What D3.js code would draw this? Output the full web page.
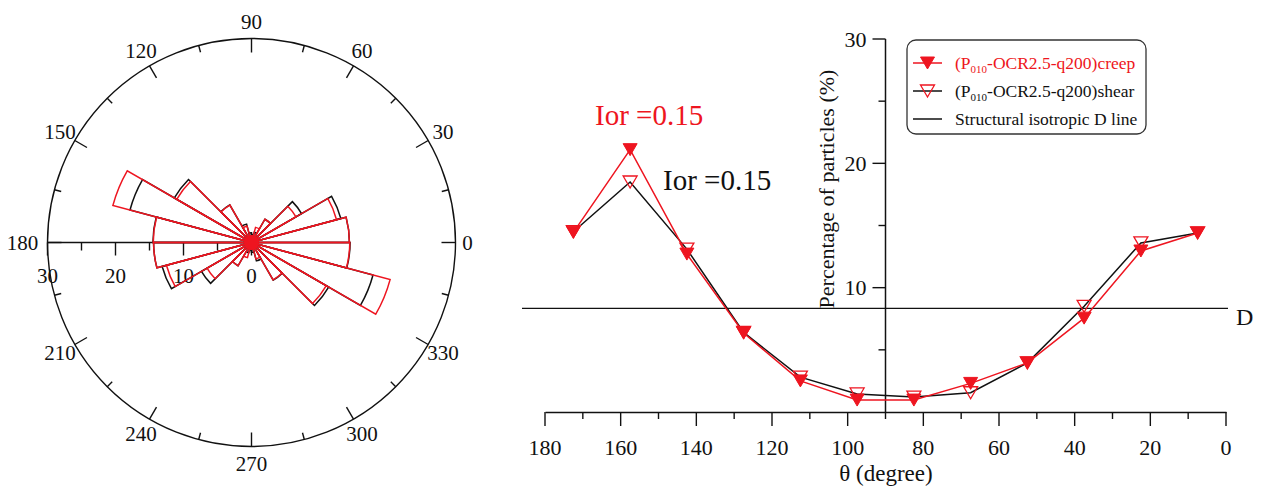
<!DOCTYPE html>
<html>
<head>
<meta charset="utf-8">
<script src="https://cdn.jsdelivr.net/npm/d3@7"></script>
<style>
  html, body { margin: 0; padding: 0; background: #fff; }
  svg { display: block; }
</style>
</head>
<body>
<svg id="chart" width="1262" height="487" font-family="'Liberation Serif', 'DejaVu Serif', serif"></svg>
<script>
// ---------------- DATA ----------------
const thetaCenters = [7.5, 22.5, 37.5, 52.5, 67.5, 82.5, 97.5, 112.5, 127.5, 142.5, 157.5, 172.5];
const creepValues  = [14.4, 12.95, 7.55, 3.95, 2.3, 0.96, 0.96, 2.5, 6.35, 12.7, 21.1, 14.45];
const shearValues  = [14.4, 13.6, 8.5, 3.95, 1.55, 1.2, 1.45, 2.8, 6.4, 13.1, 18.5, 14.5];
const binWidth = 15;
const isotropicD = 100 / 12;
const xTickLabels = [180, 160, 140, 120, 100, 80, 60, 40, 20, 0];
const yTickLabels = [0, 10, 20, 30];
const angleLabels = [0, 30, 60, 90, 120, 150, 180, 210, 240, 270, 300, 330];
const radialLabels = [0, 10, 20, 30];
const legendLabels = ["creep", "shear", "Structural isotropic D line"];
const iorCreep = "Ior =0.15";
const iorShear = "Ior =0.15";

const RED = "#ee1520";
const BLACK = "#111";
const FONT = "'Liberation Serif', 'DejaVu Serif', serif";

const svg = d3.select("#chart");

// ---------------- POLAR ROSE ----------------
const cx = 251.5, cy = 242.5, R = 204;
const rScale = d3.scaleLinear().domain([0, 30]).range([0, R]);
const gP = svg.append("g").attr("transform", `translate(${cx},${cy})`);

gP.append("circle").attr("r", R).attr("fill", "none").attr("stroke", BLACK).attr("stroke-width", 1.4);

const toRad = d => d * Math.PI / 180;
d3.range(0, 360, 15).forEach(a => {
  const major = a % 30 === 0;
  const len = major ? 14 : 7;
  const c = Math.cos(toRad(a)), s = -Math.sin(toRad(a));
  gP.append("line")
    .attr("x1", c * R).attr("y1", s * R)
    .attr("x2", c * (R - len)).attr("y2", s * (R - len))
    .attr("stroke", BLACK).attr("stroke-width", 1.4);
});
angleLabels.forEach(a => {
  const rr = (a === 0) ? 216 : (a === 180 ? 229 : 221);
  gP.append("text")
    .attr("x", Math.cos(toRad(a)) * rr)
    .attr("y", -Math.sin(toRad(a)) * rr)
    .attr("text-anchor", "middle").attr("dominant-baseline", "central")
    .attr("font-family", FONT)
    .attr("font-size", 21).attr("fill", BLACK).text(a);
});

gP.append("line").attr("x1", 0).attr("y1", 0).attr("x2", -R).attr("y2", 0)
  .attr("stroke", BLACK).attr("stroke-width", 1.4);
d3.range(0, 31, 5).forEach(v => {
  const major = v % 10 === 0;
  gP.append("line")
    .attr("x1", -rScale(v)).attr("y1", 0)
    .attr("x2", -rScale(v)).attr("y2", major ? 13 : 8)
    .attr("stroke", BLACK).attr("stroke-width", 1.4);
});
radialLabels.forEach(v => {
  gP.append("text").attr("x", -rScale(v)).attr("y", 33)
    .attr("text-anchor", "middle").attr("dominant-baseline", "central")
    .attr("font-family", FONT)
    .attr("font-size", 21).attr("fill", BLACK).text(v);
});

const arc = d3.arc().innerRadius(0);
function wedges(values, color) {
  const bins = d3.range(24).map(k => ({
    center: thetaCenters[k % 12] + (k >= 12 ? 180 : 0),
    value: values[k % 12]
  }));
  gP.append("g").selectAll("path").data(bins).join("path")
    .attr("d", d => arc({
      outerRadius: rScale(d.value),
      startAngle: toRad(90 - (d.center + binWidth / 2)),
      endAngle: toRad(90 - (d.center - binWidth / 2))
    }))
    .attr("fill", "none").attr("stroke", color).attr("stroke-width", 1.5)
    .attr("stroke-linejoin", "miter");
}
wedges(shearValues, BLACK);
wedges(creepValues, RED);
gP.append("circle").attr("r", 7.5).attr("fill", RED);

// ---------------- LINE CHART ----------------
const x = d3.scaleLinear().domain([180, 0]).range([545, 1226]);
const y = d3.scaleLinear().domain([0, 30]).range([412, 39]);

svg.append("line").attr("x1", 522).attr("x2", 1228)
  .attr("y1", y(isotropicD)).attr("y2", y(isotropicD))
  .attr("stroke", BLACK).attr("stroke-width", 1.4);
svg.append("text").attr("x", 1236).attr("y", y(isotropicD) + 17)
  .attr("font-family", FONT)
  .attr("font-size", 24).attr("fill", BLACK).text("D");

const xAxis = d3.axisBottom(x).tickValues(d3.range(0, 181, 10))
  .tickSize(0).tickFormat("");
const gx = svg.append("g").attr("transform", `translate(0,${y(0)})`).call(xAxis);
gx.select(".domain").attr("stroke", BLACK).attr("stroke-width", 1.5);
gx.selectAll(".tick").remove();
d3.range(0, 181, 10).forEach(v => {
  const major = v % 20 === 0;
  gx.append("line").attr("x1", x(v)).attr("x2", x(v)).attr("y1", 0).attr("y2", major ? 14 : 7)
    .attr("stroke", BLACK).attr("stroke-width", 1.4);
});
xTickLabels.forEach(v => {
  gx.append("text").attr("x", x(v)).attr("y", 43).attr("text-anchor", "middle")
    .attr("font-family", FONT)
    .attr("font-size", 22).attr("fill", BLACK).text(v);
});
svg.append("text").attr("x", 886).attr("y", 481).attr("text-anchor", "middle")
  .attr("font-family", FONT)
  .attr("font-size", 23).attr("fill", BLACK).text("θ (degree)");

const gy = svg.append("g").attr("transform", `translate(${x(90)},0)`);
gy.append("line").attr("x1", 0).attr("x2", 0).attr("y1", y(0)).attr("y2", y(30))
  .attr("stroke", BLACK).attr("stroke-width", 1.5);
d3.range(5, 31, 5).forEach(v => {
  const major = v % 10 === 0;
  gy.append("line").attr("x1", 0).attr("x2", major ? -13 : -7).attr("y1", y(v)).attr("y2", y(v))
    .attr("stroke", BLACK).attr("stroke-width", 1.4);
});
yTickLabels.filter(v => v > 0).forEach(v => {
  gy.append("text").attr("x", -19).attr("y", y(v)).attr("text-anchor", "end")
    .attr("font-family", FONT)
    .attr("dominant-baseline", "central").attr("font-size", 22).attr("fill", BLACK).text(v);
});
svg.append("text").attr("transform", `translate(834,189) rotate(-90)`)
  .attr("text-anchor", "middle").attr("font-size", 22).attr("fill", BLACK)
  .attr("font-family", FONT)
  .text("Percentage of particles (%)");

const line = d3.line().x((d, i) => x(thetaCenters[i])).y(d => y(d));
svg.append("path").datum(shearValues).attr("d", line)
  .attr("fill", "none").attr("stroke", BLACK).attr("stroke-width", 1.5);
svg.append("path").datum(creepValues).attr("d", line)
  .attr("fill", "none").attr("stroke", RED).attr("stroke-width", 1.5);

const tri = "M-7,-6L7,-6L0,6Z";
svg.append("g").selectAll("path").data(shearValues).join("path")
  .attr("d", tri).attr("transform", (d, i) => `translate(${x(thetaCenters[i])},${y(d)})`)
  .attr("fill", "none").attr("stroke", RED).attr("stroke-width", 1.3);
svg.append("g").selectAll("path").data(creepValues).join("path")
  .attr("d", tri).attr("transform", (d, i) => `translate(${x(thetaCenters[i])},${y(d)})`)
  .attr("fill", RED).attr("stroke", RED).attr("stroke-width", 1);

svg.append("text").attr("x", 595).attr("y", 125).attr("font-size", 29).attr("fill", RED)
  .attr("font-family", FONT).text(iorCreep);
svg.append("text").attr("x", 663).attr("y", 190).attr("font-size", 29).attr("fill", BLACK)
  .attr("font-family", FONT).text(iorShear);

const lg = svg.append("g");
lg.append("rect").attr("x", 907).attr("y", 40).attr("width", 239).attr("height", 94)
  .attr("rx", 9).attr("fill", "#fff").attr("stroke", "#333").attr("stroke-width", 1.3);
const rows = [63, 91, 119];
lg.append("line").attr("x1", 913).attr("x2", 942).attr("y1", rows[0]).attr("y2", rows[0]).attr("stroke", RED).attr("stroke-width", 1.5);
lg.append("path").attr("d", tri).attr("transform", `translate(927.5,${rows[0]})`).attr("fill", RED).attr("stroke", RED);
lg.append("line").attr("x1", 913).attr("x2", 942).attr("y1", rows[1]).attr("y2", rows[1]).attr("stroke", BLACK).attr("stroke-width", 1.5);
lg.append("path").attr("d", tri).attr("transform", `translate(927.5,${rows[1]})`).attr("fill", "none").attr("stroke", RED).attr("stroke-width", 1.3);
lg.append("line").attr("x1", 913).attr("x2", 942).attr("y1", rows[2]).attr("y2", rows[2]).attr("stroke", BLACK).attr("stroke-width", 1.5);

function seriesLabel(yy, suffix, color) {
  const t = lg.append("text").attr("x", 955).attr("y", yy + 6).attr("font-size", 17.5)
    .attr("font-family", FONT).attr("fill", color);
  t.append("tspan").text("(P");
  t.append("tspan").attr("font-size", 11).attr("dy", 4).text("010");
  t.append("tspan").attr("dy", -4).text("-OCR2.5-q200)" + suffix);
}
seriesLabel(rows[0], legendLabels[0], RED);
seriesLabel(rows[1], legendLabels[1], BLACK);
lg.append("text").attr("x", 955).attr("y", rows[2] + 6).attr("font-size", 17.5)
  .attr("font-family", FONT).attr("fill", BLACK).text(legendLabels[2]);
</script>
</body>
</html>
